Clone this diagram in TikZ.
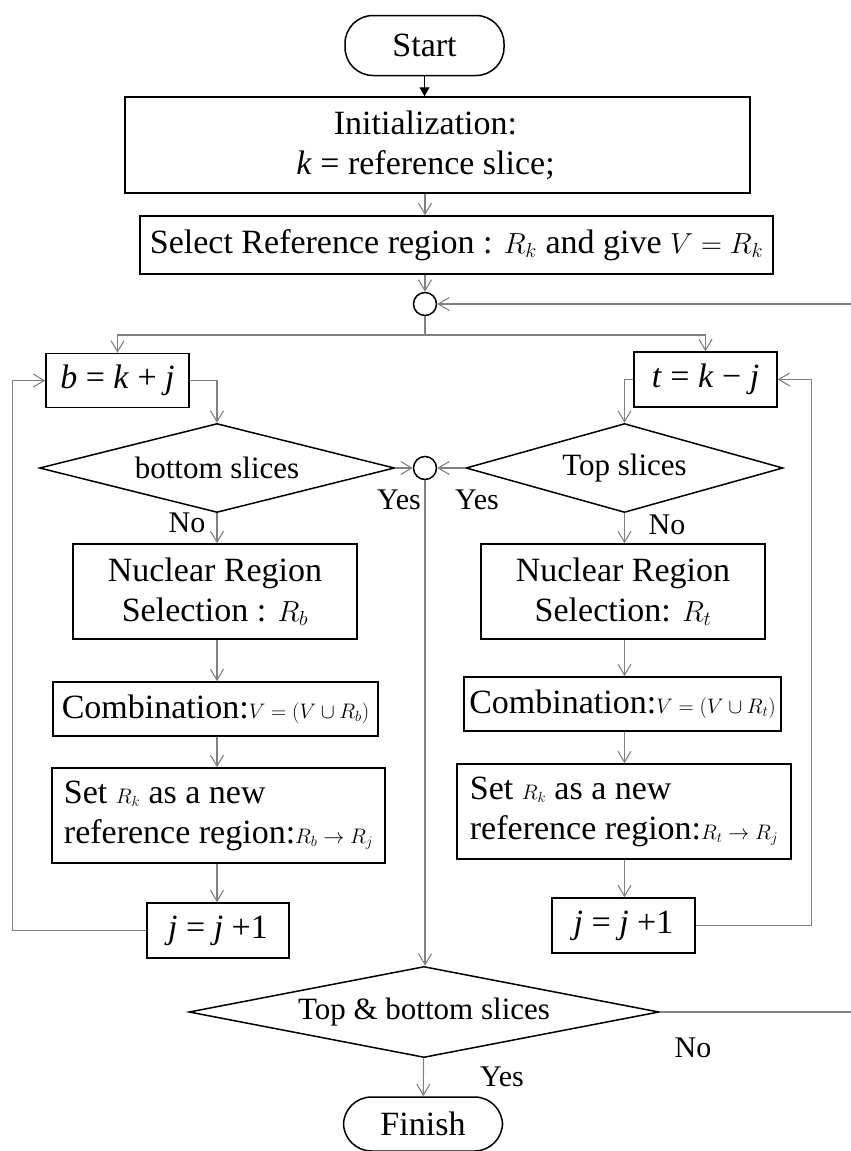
\RequirePackage{fix-cm}
\documentclass[tikz,border=0pt]{standalone}
\usepackage{fontspec}
\setmainfont{Liberation Serif}
\usepackage{tikz}
\usetikzlibrary{positioning}
\usetikzlibrary{shapes.geometric,arrows.meta}

\newcommand{\smallmath}[1]{{\fontsize{21}{24}\selectfont$#1$}}
\newcommand{\midmath}[1]{{\fontsize{29}{34}\selectfont$#1$}}
\newcommand{\vv}[1]{\textit{#1}}

\begin{document}
\begin{tikzpicture}[x=1pt, y=-1pt,
                every node/.style={font=\fontsize{34}{40}\selectfont},
                term/.style={rectangle, rounded corners=28pt, draw, line width=1.5pt, minimum width=159pt, minimum height=60pt},
                proc/.style={rectangle, draw, line width=1.5pt, align=center, inner sep=0pt},
                dec/.style={diamond, draw, line width=1.5pt, aspect=4, inner sep=0pt, font=\fontsize{31}{36}\selectfont},
                junc/.style={circle, draw, line width=1.5pt, minimum size=23pt, inner sep=0pt},
                lbl/.style={inner sep=0pt, font=\fontsize{30}{36}\selectfont},
                conn/.style={draw=gray, line width=1.1pt},
                arr/.style={conn, -{Straight Barb[length=11pt,width=13pt]}}
            ]
            \useasboundingbox (0,0) rectangle (851,1151);
            % Nodes
            \node[term] (start) at (424.5,45.5) {Start};
            \node[proc, minimum width=625pt, minimum height=96pt] (init) at (437.5,145) {Initialization:\hspace*{24pt}\\ \vv{k} = reference slice;\hspace*{24pt}};
            \node[proc, minimum width=633pt, minimum height=58pt] (sel) at (456.5,245) {Select Reference region : \midmath{R_k} and give \midmath{V = R_k}};
            \node[junc] (jn1) at (425,304) {};
            \coordinate (split) at (425,335);
            \coordinate (fbin) at (851,304);
            \node[proc, minimum width=143pt, minimum height=54pt] (bset) at (117.5,380.5) {\vv{b} = \vv{k} + \vv{j}};
            \node[proc, minimum width=143pt, minimum height=55pt] (tset) at (705.5,379.5) {\vv{t} = \vv{k} − \vv{j}};
            \node[dec, minimum width=355pt, minimum height=89pt] (botq) at (217,468) {bottom slices};
            \node[dec, minimum width=317pt, minimum height=89pt] (topq) at (624.5,468) {Top slices};
            \node[junc] (jn2) at (425,468) {};
            \node[proc, minimum width=284pt, minimum height=95pt] (nucb) at (215,591.5) {Nuclear Region\\ Selection : \midmath{R_b}};
            \node[proc, minimum width=284pt, minimum height=95pt] (nuct) at (623,591.5) {Nuclear Region\\ Selection: \midmath{R_t}};
            \node[proc, minimum width=325pt, minimum height=54pt] (combb) at (215.5,709) {Combination:\smallmath{V = (V \cup R_b)}};
            \node[proc, minimum width=317pt, minimum height=54pt] (combt) at (622.5,704) {Combination:\smallmath{V = (V \cup R_t)}};
            \node[proc, minimum width=333pt, minimum height=95pt, align=left] (newb) at (218.5,815.5) {Set \smallmath{R_k} as a new\\ reference region:\smallmath{R_b \rightarrow R_j}};
            \node[proc, minimum width=334pt, minimum height=95pt, align=left] (newt) at (624,811.5) {Set \smallmath{R_k} as a new\\ reference region:\smallmath{R_t \rightarrow R_j}};
            \node[proc, minimum width=142pt, minimum height=55pt] (incb) at (218,930.5) {\vv{j} = \vv{j} +1};
            \node[proc, minimum width=143pt, minimum height=55pt] (inct) at (623.5,925.5) {\vv{j} = \vv{j} +1};
            \node[dec, minimum width=470pt, minimum height=89pt] (allq) at (424,1012) {Top \& bottom slices};
            \coordinate (fbout) at (851,1012);
            \node[term, minimum height=54pt] (finish) at (423,1124) {Finish};
            % Labels
            \node[lbl] (nob) at (187,523) {No};
            \node[lbl] (yesb) at (399,500) {Yes};
            \node[lbl] (yest) at (477,500) {Yes};
            \node[lbl] (not) at (667,525) {No};
            \node[lbl] (noall) at (693,1048) {No};
            \node[lbl] (yesall) at (502,1077) {Yes};
            % Arrows
            \draw[line width=1.1pt, -{Triangle[length=9pt,width=10pt]}] (start) -- (start |- init.north);
            \draw[arr] (init.south -| jn1) -- (sel.north -| jn1);
            \draw[arr] (sel.south -| jn1) -- (jn1);
            \draw[arr] (fbin) -- (jn1);
            \draw[conn] (jn1) -- (split);
            \draw[arr] (split) -| (bset);
            \draw[arr] (split) -| (tset);
            \draw[arr] (bset.east) -| (botq.north);
            \draw[arr] (tset.west) -| (topq.north);
            \draw[arr] (botq.east) -- (jn2);
            \draw[arr] (topq.west) -- (jn2);
            \draw[arr] (jn2) -- (jn2 |- allq.north);
            \draw[arr] (botq.south) -- (botq.south |- nucb.north);
            \draw[arr] (topq.south) -- (topq.south |- nuct.north);
            \draw[arr] (nucb.south -| botq) -- (combb.north -| botq);
            \draw[arr] (nuct.south -| topq) -- (combt.north -| topq);
            \draw[arr] (combb.south -| botq) -- (newb.north -| botq);
            \draw[arr] (combt.south -| topq) -- (newt.north -| topq);
            \draw[arr] (newb.south -| botq) -- (incb.north -| botq);
            \draw[arr] (newt.south -| topq) -- (inct.north -| topq);
            \draw[arr] (incb.west) -- ++(-134,0) |- (bset.west);
            \draw[arr] (inct.east) -- ++(116,0) |- (tset.east);
            \draw[conn] (allq.east) -- (fbout);
            \draw[arr] (allq) -- (finish);
\end{tikzpicture}
\end{document}
